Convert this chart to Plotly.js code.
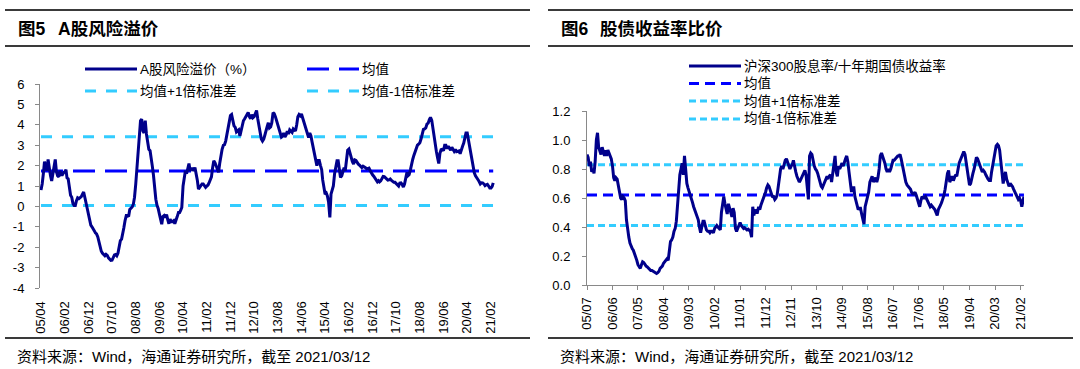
<!DOCTYPE html>
<html><head><meta charset="utf-8">
<script src="https://cdn.plot.ly/plotly-3.0.1.min.js"></script>
<style>html,body{margin:0;padding:0;background:#fff;}#chart{width:1080px;height:369px;}</style>
</head><body><div id="chart"></div>
<script>
// ---------- Figure 5: A-share risk premium (%), semi-monthly readings from 2005-04 ----------
const riskStart = '2005-04';
const riskPremium = [
0.8,1.1,1.6,2.2,1.9,1.75,2.3,1.8,1.5,1.25,
1.6,2.0,2.3,1.7,1.5,1.45,1.75,1.55,1.55,1.65,
1.7,1.8,1.4,1.35,0.8,0.55,0.45,0.15,0.05,0.05,
0.28,0.42,0.38,0.44,0.48,0.6,0.7,0.45,0.15,-0.1,
-0.46,-0.75,-0.92,-1.0,-1.08,-1.2,-1.3,-1.35,-1.5,-1.78,
-2.03,-2.2,-2.3,-2.35,-2.42,-2.35,-2.4,-2.52,-2.6,-2.65,
-2.64,-2.5,-2.38,-2.36,-2.42,-2.3,-2.0,-1.68,-1.6,-1.35,
-1.05,-0.7,-0.45,-0.45,-0.5,-0.15,-0.08,-0.03,0.11,0.45,
1.1,1.9,2.7,3.6,4.2,4.28,3.7,3.6,4.2,3.55,
3.1,2.8,2.73,2.4,2.0,1.55,0.85,0.35,0.05,-0.1,
-0.38,-0.65,-0.87,-0.5,-0.45,-0.54,-0.4,-0.65,-0.85,-0.62,
-0.75,-0.75,-0.7,-0.85,-0.7,-0.5,-0.3,-0.3,-0.2,-0.05,
1.0,1.5,1.75,1.6,1.9,2.1,1.75,1.85,1.85,1.75,
1.9,1.65,1.3,0.85,0.95,1.05,1.1,1.1,1.0,0.93,
1.0,1.05,1.15,1.28,1.45,1.9,2.24,2.15,2.0,1.8,
1.67,2.1,2.5,2.8,3.0,3.03,3.2,3.48,3.85,4.2,
4.45,4.5,4.2,3.95,3.87,3.65,3.7,3.75,3.45,3.7,
3.95,4.2,4.3,4.42,4.5,4.6,4.4,4.3,4.5,4.35,
4.4,4.6,4.7,4.3,3.9,3.6,3.3,3.2,3.3,3.5,
3.75,3.9,4.1,3.85,3.9,4.1,4.6,4.55,4.4,4.2,
4.0,3.8,3.63,3.4,3.45,3.6,3.4,3.5,3.68,3.55,
3.75,3.7,3.63,3.8,3.75,3.7,4.0,4.4,4.5,4.44,
4.53,4.35,4.15,3.95,3.8,3.6,3.38,3.6,3.45,3.15,
2.85,2.5,2.2,2.0,2.25,2.25,2.0,1.8,1.3,0.85,
0.6,0.65,0.5,0.2,-0.54,0.6,0.8,1.0,1.6,2.05,
2.24,2.24,1.8,1.42,1.5,1.75,1.9,1.75,2.5,2.75,
2.81,2.6,2.35,2.2,2.07,2.28,2.25,2.14,2.07,2.02,
1.97,1.9,1.97,1.95,1.9,1.84,1.87,1.88,1.75,1.63,
1.55,1.48,1.36,1.25,1.2,1.26,1.2,1.25,1.35,1.47,
1.46,1.4,1.34,1.29,1.3,1.34,1.28,1.22,1.18,1.18,
1.13,1.06,1.0,1.14,1.15,1.08,0.95,1.1,1.4,1.67,
1.5,1.55,1.78,2.1,2.3,2.5,2.72,2.9,3.0,3.05,
3.12,3.3,3.55,3.78,3.8,3.85,4.04,4.08,4.25,4.36,
4.22,3.8,3.3,2.8,2.7,2.4,2.1,2.6,2.78,2.8,
2.73,3.0,3.0,2.83,2.95,2.85,2.75,2.9,2.75,2.7,
2.8,2.68,2.7,2.72,2.58,2.8,2.95,3.1,3.45,3.6,
3.6,3.3,2.95,2.6,2.2,1.9,1.65,1.5,1.43,1.32,
1.22,1.1,1.16,1.15,1.1,1.02,1.06,1.08,1.0,0.9,
0.9,0.98,1.15
];
const riskMean = 1.73;
const riskPlus1Sd = 3.42;
const riskMinus1Sd = 0.04;
const riskTickVals = ['2005-04-01','2006-02-01','2006-12-01','2007-10-01','2008-08-01','2009-06-01','2010-04-01','2011-02-01','2011-12-01','2012-10-01','2013-08-01','2014-06-01','2015-04-01','2016-02-01','2016-12-01','2017-10-01','2018-08-01','2019-06-01','2020-04-01','2021-02-01'];
const riskTickText = ['05/04','06/02','06/12','07/10','08/08','09/06','10/04','11/02','11/12','12/10','13/08','14/06','15/04','16/02','16/12','17/10','18/08','19/06','20/04','21/02'];
const riskYVals = [6,5,4,3,2,1,0,-1,-2,-3,-4];
const riskYText = ['6','5','4','3','2','1','0','-1','-2','-3','-4'];

// ---------- Figure 6: CSI300 dividend yield / 10Y CGB yield, semi-monthly readings from 2005-07 ----------
const ratioStart = '2005-07';
const yieldRatio = [
0.9,0.88,0.82,0.85,0.78,0.8,0.77,0.85,1.0,1.05,
0.95,0.92,0.9,0.95,0.91,0.89,0.93,0.89,0.93,0.91,
0.89,0.87,0.82,0.74,0.72,0.74,0.73,0.68,0.64,0.6,
0.59,0.61,0.6,0.58,0.45,0.38,0.33,0.29,0.26,0.25,
0.24,0.22,0.19,0.17,0.14,0.13,0.115,0.14,0.16,0.155,
0.14,0.13,0.125,0.115,0.105,0.1,0.1,0.095,0.09,0.09,
0.08,0.085,0.095,0.115,0.12,0.13,0.15,0.16,0.17,0.18,
0.17,0.24,0.3,0.31,0.33,0.37,0.39,0.44,0.55,0.66,
0.76,0.8,0.84,0.76,0.89,0.8,0.7,0.67,0.65,0.63,
0.6,0.57,0.54,0.52,0.5,0.48,0.45,0.4,0.36,0.4,
0.44,0.44,0.41,0.38,0.37,0.37,0.36,0.37,0.37,0.36,
0.39,0.4,0.41,0.4,0.39,0.38,0.5,0.57,0.61,0.56,
0.52,0.49,0.56,0.53,0.5,0.47,0.53,0.5,0.39,0.37,
0.39,0.41,0.43,0.41,0.4,0.39,0.395,0.39,0.38,0.385,
0.38,0.37,0.33,0.54,0.48,0.52,0.5,0.5,0.54,0.52,
0.55,0.57,0.6,0.62,0.64,0.67,0.69,0.68,0.66,0.63,
0.61,0.61,0.59,0.6,0.62,0.69,0.76,0.8,0.82,0.8,
0.83,0.86,0.87,0.85,0.83,0.8,0.82,0.83,0.86,0.81,
0.78,0.75,0.72,0.71,0.72,0.74,0.76,0.77,0.79,0.76,
0.68,0.59,0.89,0.91,0.9,0.85,0.82,0.8,0.79,0.77,
0.74,0.7,0.68,0.67,0.7,0.71,0.73,0.75,0.74,0.75,
0.76,0.71,0.76,0.82,0.89,0.78,0.75,0.82,0.8,0.82,
0.84,0.82,0.85,0.87,0.89,0.85,0.78,0.7,0.65,0.65,
0.68,0.61,0.58,0.55,0.52,0.53,0.53,0.49,0.44,0.42,
0.54,0.58,0.61,0.64,0.71,0.74,0.75,0.71,0.73,0.74,
0.71,0.74,0.8,0.89,0.91,0.89,0.87,0.84,0.8,0.78,
0.8,0.78,0.8,0.84,0.86,0.86,0.87,0.88,0.89,0.89,
0.9,0.87,0.83,0.8,0.74,0.71,0.69,0.68,0.67,0.66,
0.64,0.63,0.63,0.64,0.62,0.59,0.56,0.54,0.58,0.61,
0.6,0.6,0.61,0.59,0.57,0.56,0.54,0.55,0.54,0.53,
0.52,0.5,0.48,0.52,0.53,0.55,0.57,0.59,0.62,0.66,
0.73,0.77,0.79,0.71,0.73,0.75,0.72,0.75,0.76,0.75,
0.8,0.84,0.86,0.88,0.91,0.92,0.9,0.85,0.8,0.73,
0.69,0.7,0.75,0.77,0.8,0.83,0.88,0.87,0.85,0.83,
0.8,0.78,0.79,0.78,0.76,0.74,0.73,0.72,0.72,0.78,
0.83,0.88,0.93,0.96,0.97,0.96,0.93,0.86,0.78,0.7,
0.74,0.78,0.73,0.7,0.68,0.7,0.69,0.68,0.66,0.64,
0.62,0.61,0.59,0.6,0.58,0.54,0.58,0.61
];
const ratioMean = 0.62;
const ratioPlus1Sd = 0.83;
const ratioMinus1Sd = 0.41;
const ratioTickVals = ['2005-07-01','2006-06-01','2007-05-01','2008-04-01','2009-03-01','2010-02-01','2011-01-01','2011-12-01','2012-11-01','2013-10-01','2014-09-01','2015-08-01','2016-07-01','2017-06-01','2018-05-01','2019-04-01','2020-03-01','2021-02-01'];
const ratioTickText = ['05/07','06/06','07/05','08/04','09/03','10/02','11/01','11/12','12/11','13/10','14/09','15/08','16/07','17/06','18/05','19/04','20/03','21/02'];

// semi-monthly observation dates (1st and 16th of each month)
function semiMonthlyDates(start, n) {
  const [y, m] = start.split('-').map(Number);
  const out = [];
  for (let i = 0; i < n; i++) {
    const mi = (m - 1) + Math.floor(i / 2);
    const yy = y + Math.floor(mi / 12);
    const mm = (mi % 12) + 1;
    out.push(yy + '-' + String(mm).padStart(2, '0') + '-' + (i % 2 ? '16' : '01'));
  }
  return out;
}
const riskDates = semiMonthlyDates(riskStart, riskPremium.length);
const ratioDates = semiMonthlyDates(ratioStart, yieldRatio.length);

// ---------- styling ----------
const NAVY = '#00008B', BLUE = '#0000FF', CYAN = '#33CCFF', AXIS = '#898989', RULE = '#3a3a3a';
const FONT = '"Liberation Sans", Arial, "Noto Sans CJK SC", sans-serif';
const W = 1080, H = 369;
const X = p => p / W, Y = p => 1 - p / H;

const riskEnds = [riskDates[0], riskDates[riskDates.length - 1]];
const ratioEnds = [ratioDates[0], ratioDates[ratioDates.length - 1]];

function hline(xs, v, color, dash, xa, ya) {
  return {type: 'scatter', mode: 'lines', x: xs, y: [v, v], xaxis: xa, yaxis: ya,
    line: {color: color, width: 3, dash: dash}, hoverinfo: 'skip'};
}

const traces = [
  hline(riskEnds, riskPlus1Sd, CYAN, '11px,10px', 'x', 'y'),
  hline(riskEnds, riskMinus1Sd, CYAN, '11px,10px', 'x', 'y'),
  hline(riskEnds, riskMean, BLUE, '22px,10px', 'x', 'y'),
  {type: 'scatter', mode: 'lines', x: riskDates, y: riskPremium, xaxis: 'x', yaxis: 'y',
    line: {color: NAVY, width: 3}},
  hline(ratioEnds, ratioPlus1Sd, CYAN, '7px,4px', 'x2', 'y2'),
  hline(ratioEnds, ratioMinus1Sd, CYAN, '7px,4px', 'x2', 'y2'),
  hline(ratioEnds, ratioMean, BLUE, '10px,6px', 'x2', 'y2'),
  {type: 'scatter', mode: 'lines', x: ratioDates, y: yieldRatio, xaxis: 'x2', yaxis: 'y2',
    line: {color: NAVY, width: 3}}
];

const riskYRange = [-4, 6];
const riskYDom = [Y(288), Y(84)];
const zeroPos = riskYDom[0] + (0 - riskYRange[0]) / (riskYRange[1] - riskYRange[0]) * (riskYDom[1] - riskYDom[0]);
const riskXDom = [X(40), X(495)];
const riskXRange = ['2005-03-19', '2021-03-24'];

const layout = {
  width: W, height: H, margin: {l: 0, r: 0, t: 0, b: 0},
  paper_bgcolor: '#fff', plot_bgcolor: 'rgba(0,0,0,0)', showlegend: false,
  font: {family: FONT, size: 13, color: '#000'},
  xaxis: {type: 'date', domain: riskXDom, range: riskXRange, anchor: 'y',
    tickmode: 'array', tickvals: riskTickVals, ticktext: riskTickText, tickangle: -90,
    ticks: 'outside', ticklen: 7, tickcolor: 'rgba(0,0,0,0)', showline: false, showgrid: false, zeroline: false,
    tickfont: {size: 13, family: FONT}},
  xaxis3: {type: 'date', overlaying: 'x', domain: riskXDom, range: riskXRange, anchor: 'free', position: zeroPos,
    tickmode: 'array', tickvals: riskTickVals, showticklabels: false,
    ticks: 'outside', ticklen: 4, tickcolor: AXIS, showline: true, linecolor: AXIS, linewidth: 1,
    showgrid: false, zeroline: false, layer: 'below traces'},
  yaxis: {domain: riskYDom, range: riskYRange, anchor: 'x', tickmode: 'array', tickvals: riskYVals, ticktext: riskYText,
    ticks: 'outside', ticklen: 4, tickcolor: AXIS, showline: true, linecolor: AXIS, linewidth: 1,
    showgrid: false, zeroline: false, ticklabelstandoff: 8, tickfont: {size: 13, family: FONT}},
  xaxis2: {type: 'date', domain: [X(587), X(1024.1)], range: ['2005-07-01', '2021-03-18'], anchor: 'y2',
    tickmode: 'array', tickvals: ratioTickVals, ticktext: ratioTickText, tickangle: -90,
    ticks: 'outside', ticklen: 4, tickcolor: AXIS, showline: true, linecolor: AXIS, linewidth: 1,
    showgrid: false, zeroline: false, ticklabelstandoff: 2, tickfont: {size: 13, family: FONT}},
  yaxis2: {domain: [Y(285), Y(111)], range: [0, 1.2], anchor: 'x2', dtick: 0.2, tick0: 0, tickformat: '.1f',
    ticks: 'outside', ticklen: 4, tickcolor: AXIS, showline: true, linecolor: AXIS, linewidth: 1,
    showgrid: false, zeroline: false, ticklabelstandoff: 9, tickfont: {size: 13, family: FONT}},
  shapes: [],
  annotations: []
};

function rule(x0, x1, yp) {
  layout.shapes.push({type: 'line', xref: 'paper', yref: 'paper', x0: X(x0), x1: X(x1), y0: Y(yp), y1: Y(yp),
    line: {color: RULE, width: 2}});
}
[10, 46, 338].forEach(yp => { rule(5, 530, yp); rule(548, 1073, yp); });

function txt(text, xp, yp, size, extra) {
  layout.annotations.push(Object.assign({text: text, xref: 'paper', yref: 'paper', x: X(xp), y: Y(yp),
    xanchor: 'left', yanchor: 'middle', showarrow: false, borderpad: 0, borderwidth: 0,
    font: {family: FONT, size: size, color: '#000'}}, extra || {}));
}
function legendItem(x0, yp, color, dash, label) {
  layout.shapes.push({type: 'line', xref: 'paper', yref: 'paper', x0: X(x0), x1: X(x0 + 52), y0: Y(yp), y1: Y(yp),
    line: {color: color, width: 3, dash: dash}});
  txt(label, x0 + 55, yp, 13.5);
}

// titles
txt('<b>图5</b>', 18, 29, 17.5);
txt('<b>A股风险溢价</b>', 58, 29, 17.5);
txt('<b>图6</b>', 561, 29, 17.5);
txt('<b>股债收益率比价</b>', 600, 29, 17.5);

// legends
legendItem(85, 69, NAVY, 'solid', 'A股风险溢价（%）');
legendItem(307, 69, BLUE, '22px,10px', '均值');
legendItem(85, 91, CYAN, '11px,10px', '均值+1倍标准差');
legendItem(307, 91, CYAN, '11px,10px', '均值-1倍标准差');

legendItem(689, 66, NAVY, 'solid', '沪深300股息率/十年期国债收益率');
legendItem(689, 83.5, BLUE, '10px,6px', '均值');
legendItem(689, 101, CYAN, '7px,4px', '均值+1倍标准差');
legendItem(689, 119, CYAN, '7px,4px', '均值-1倍标准差');

// sources
txt('资料来源：Wind，海通证券研究所，截至 2021/03/12', 17, 356, 15);
txt('资料来源：Wind，海通证券研究所，截至 2021/03/12', 560, 356, 15);

Plotly.newPlot('chart', traces, layout, {staticPlot: true, displayModeBar: false});
</script>
</body></html>
